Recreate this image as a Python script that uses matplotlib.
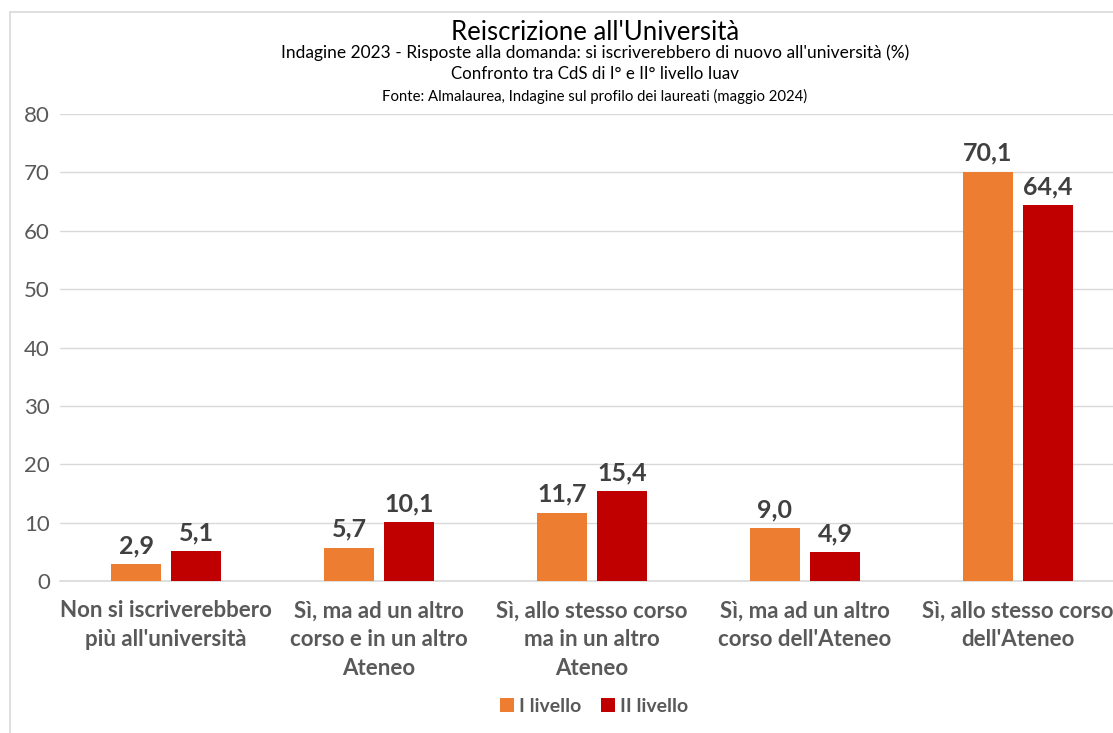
import matplotlib.pyplot as plt
import numpy as np
from matplotlib.patches import Rectangle

plt.rcParams['font.family'] = ['Lato', 'DejaVu Sans']

# data
categories = ["Non si iscriverebbero\npiù all'università",
              "Sì, ma ad un altro\ncorso e in un altro\nAteneo",
              "Sì, allo stesso corso\nma in un altro\nAteneo",
              "Sì, ma ad un altro\ncorso dell'Ateneo",
              "Sì, allo stesso corso\ndell'Ateneo"]
primo_livello = [2.9, 5.7, 11.7, 9.0, 70.1]
secondo_livello = [5.1, 10.1, 15.4, 4.9, 64.4]
series_names = ['I livello', 'II livello']
colors = ['#ED7D31', '#C00000']

fig = plt.figure(figsize=(11.13, 7.33), dpi=100)
# chart border like the excel frame
fig.patches.append(Rectangle((10/1113, -0.1), 1.2, 1 - 12/733 + 0.1, transform=fig.transFigure,
                             fill=False, edgecolor='#D9D9D9', lw=1.2))

ax = fig.add_axes([59.5/1113, 1-581/733, 1065/1113, (581-114)/733])
x = np.arange(len(categories))
w = 50/213
gap = 10/213
b1 = ax.bar(x - (w+gap)/2, primo_livello, w, color=colors[0], label=series_names[0], zorder=3)
b2 = ax.bar(x + (w+gap)/2, secondo_livello, w, color=colors[1], label=series_names[1], zorder=3)

for bars in (b1, b2):
    for r in bars:
        v = r.get_height()
        ax.annotate(f"{v:.1f}".replace('.', ','), (r.get_x()+r.get_width()/2, v),
                    xytext=(0, 5), textcoords='offset points', ha='center', va='bottom',
                    fontsize=18, fontweight='bold', color='#404040')

ax.set_xlim(-0.5, 4.5)
ax.set_ylim(0, 80)
ax.set_yticks(range(0, 81, 10))
ax.grid(axis='y', color='#D9D9D9', lw=1, zorder=0)
for s in ['top', 'right', 'left']:
    ax.spines[s].set_visible(False)
ax.spines['bottom'].set_color('#D9D9D9')
ax.spines['bottom'].set_linewidth(1.2)
ax.tick_params(axis='y', length=0, labelsize=16, labelcolor='#595959', pad=7)
ax.tick_params(axis='x', length=0, pad=14)
ax.set_xticks(x)
ax.set_xticklabels(categories, fontsize=16, fontweight='bold', color='#595959', linespacing=1.45)

cx = 595/1113
fig.text(cx, 1-32/733, "Reiscrizione all'Università", ha='center', va='center', fontsize=18.5, color='#000000')
fig.text(cx, 1-53/733, "Indagine 2023 - Risposte alla domanda: si iscriverebbero di nuovo all'università (%)",
         ha='center', va='center', fontsize=12.5, color='#000000')
fig.text(cx, 1-74/733, "Confronto tra CdS di I° e II° livello Iuav", ha='center', va='center', fontsize=12.2, color='#000000')
fig.text(cx, 1-96/733, "Fonte: Almalaurea, Indagine sul profilo dei laureati (maggio 2024)",
         ha='center', va='center', fontsize=10.7, color='#000000')

leg = fig.legend(loc='center', bbox_to_anchor=(594/1113, 1-706/733), ncol=2, frameon=False,
                 handlelength=0.75, handleheight=0.75, handletextpad=0.25, columnspacing=1.0,
                 prop={'size': 14, 'weight': 'bold'})
for t in leg.get_texts():
    t.set_color('#595959')

fig.savefig('out.png', dpi=100)
